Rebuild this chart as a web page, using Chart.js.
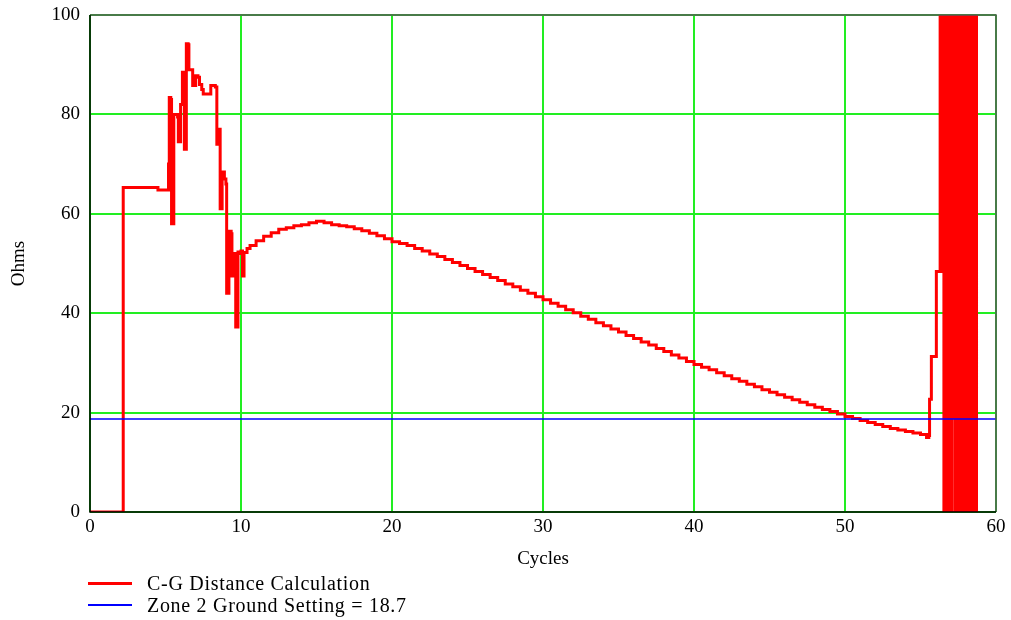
<!DOCTYPE html>
<html>
<head>
<meta charset="utf-8">
<script src="https://cdn.jsdelivr.net/npm/chart.js@4"></script>
<style>
  body { margin: 0; background: #fff; }
  .wrap { position: relative; width: 1011px; height: 620px; }
  .legend { position: absolute; left: 88px; font-family: "Liberation Serif", "Times New Roman", serif; font-size: 20px; letter-spacing: 0.7px; color: #000; }
  .legend .row { position: relative; height: 22px; line-height: 22px; }
  .legend .swatch { position: absolute; left: 0; width: 44px; }
  .legend .label { position: absolute; left: 59px; white-space: nowrap; }
</style>
</head>
<body>
<div class="wrap">
  <canvas id="myChart" width="1011" height="620"></canvas>
  <div class="legend" style="top: 572px;">
    <div class="row"><div class="swatch" style="top: 10px; height: 3px; background: #ff0000;"></div><div class="label">C-G Distance Calculation</div></div>
    <div class="row"><div class="swatch" style="top: 10px; height: 1.5px; background: #0000ff;"></div><div class="label">Zone 2 Ground Setting = 18.7</div></div>
  </div>
</div>
<script>
// C-G distance (ohms) vs cycles
const cycles = [0, 2.2, 2.2, 4.5, 4.5, 5.17, 5.2, 5.25, 5.35, 5.4, 5.5, 5.55, 5.8, 5.85, 5.95, 6.0, 6.1, 6.12, 6.2, 6.25,
  6.35, 6.38, 6.5, 6.55, 6.75, 6.8, 6.95, 7.0, 7.15, 7.25, 7.4, 7.5, 7.95, 8.0, 8.3, 8.4, 8.5, 8.6, 8.62, 8.72,
  8.75, 8.9, 9.0, 9.05, 9.15, 9.2, 9.35, 9.4, 9.5, 9.55, 9.62, 9.65, 9.75, 9.8, 9.95, 10.0, 10.1, 10.2, 10.4, 10.6,
  11, 11.5, 12, 12.5, 13, 13.5, 14, 14.5, 15, 15.5, 16, 16.5, 17, 17.5, 18, 18.5, 19, 19.5, 20, 20.5,
  21, 21.5, 22, 22.5, 23, 23.5, 24, 24.5, 25, 25.5, 26, 26.5, 27, 27.5, 28, 28.5, 29, 29.5, 30, 30.5,
  31, 31.5, 32, 32.5, 33, 33.5, 34, 34.5, 35, 35.5, 36, 36.5, 37, 37.5, 38, 38.5, 39, 39.5, 40, 40.5,
  41, 41.5, 42, 42.5, 43, 43.5, 44, 44.5, 45, 45.5, 46, 46.5, 47, 47.5, 48, 48.5, 49, 49.5, 50, 50.5,
  51, 51.5, 52, 52.5, 53, 53.5, 54, 54.5, 55, 55.4, 55.55, 55.6, 55.7, 55.72, 56.0, 56.05, 56.25];
const ohms = [0, 0, 65.3, 65.3, 64.8, 64.8, 70, 83.4, 83, 58, 58, 80, 79.5, 74.5, 74.5, 82, 82, 88.5, 88.5, 73,
  73, 94.2, 94, 89, 89, 85.8, 85.8, 87.8, 87.5, 86, 85, 84.1, 84.1, 85.8, 85.5, 74, 77, 77, 61, 61,
  68.4, 67, 66, 44, 44, 56.5, 56, 47.5, 47.5, 52, 52, 37.2, 37.2, 52.3, 52, 52.5, 47.5, 52.2, 53, 53.6,
  54.6, 55.5, 56.2, 56.9, 57.2, 57.6, 57.8, 58.2, 58.5, 58.2, 57.8, 57.6, 57.4, 57.0, 56.6, 56.1, 55.6, 55.0, 54.4, 54.0,
  53.6, 53.0, 52.5, 51.9, 51.4, 50.8, 50.2, 49.6, 49.0, 48.4, 47.8, 47.2, 46.6, 45.9, 45.3, 44.6, 44.0, 43.3, 42.7, 42.0,
  41.4, 40.7, 40.1, 39.4, 38.8, 38.1, 37.5, 36.8, 36.2, 35.5, 34.9, 34.2, 33.6, 32.9, 32.3, 31.6, 31.0, 30.3, 29.7, 29.1,
  28.6, 28.0, 27.4, 26.8, 26.3, 25.7, 25.2, 24.6, 24.1, 23.6, 23.1, 22.6, 22.1, 21.6, 21.1, 20.6, 20.2, 19.7, 19.2, 18.8,
  18.4, 18.0, 17.6, 17.2, 16.8, 16.5, 16.2, 15.9, 15.6, 15.0, 15.4, 22.7, 22.7, 31.3, 31.3, 48.4, 48.4];

// the off-scale burst at the end of the record
const burstCycles = [56.3, 56.3, 56.4, 56.4, 56.55, 56.6, 56.65, 56.7, 56.75, 56.8, 56.85, 56.9, 56.95, 57.0, 57.05, 57.1, 57.1, 57.26,
  57.26, 57.31, 57.36, 57.41, 57.46, 57.51, 57.56, 57.61, 57.66, 57.71, 57.76, 57.81, 57.86, 57.91, 57.96,
  58.01, 58.06, 58.11, 58.16, 58.21, 58.26, 58.31, 58.36, 58.41, 58.46, 58.51, 58.56, 58.61, 58.66, 58.71];
const burstOhms = [48.4, 110, 110, 48.4, 0, 110, 0, 110, 0, 110, 0, 110, 0, 110, 0, 110, 19, 19,
  110, 0, 110, 0, 110, 0, 110, 0, 110, 0, 110, 0, 110, 0, 110,
  0, 110, 0, 110, 0, 110, 0, 110, 0, 110, 0, 110, 0, 110, 0];

const zoneSetting = 18.7;
const xTicks = [0, 10, 20, 30, 40, 50, 60];
const yTicks = [0, 20, 40, 60, 80, 100];

const serif = "'Liberation Serif', 'Times New Roman', serif";

const mainPoints = cycles.map((c, i) => ({ x: c, y: ohms[i] }))
  .concat(burstCycles.map((c, i) => ({ x: c, y: burstOhms[i] })));

const framePlugin = {
  id: "frame",
  afterDatasetsDraw(chart) {
    const { ctx, chartArea: a } = chart;
    ctx.save();
    ctx.strokeStyle = "#555";
    ctx.lineWidth = 1.5;
    ctx.beginPath();
    ctx.moveTo(a.left, a.top);
    ctx.lineTo(a.right, a.top);
    ctx.lineTo(a.right, a.bottom);
    ctx.stroke();
    ctx.strokeStyle = "#000";
    ctx.beginPath();
    ctx.moveTo(a.left, a.top);
    ctx.lineTo(a.left, a.bottom);
    ctx.lineTo(a.right, a.bottom);
    ctx.stroke();
    ctx.restore();
  },
};

const ctx = document.getElementById("myChart").getContext("2d");
new Chart(ctx, {
  type: "line",
  data: {
    datasets: [
      {
        label: "C-G Distance Calculation",
        data: mainPoints,
        borderColor: "#ff0000",
        borderWidth: 3,
        pointRadius: 0,
        stepped: true,
        clip: 0,
        order: 2,
      },
      {
        label: "Zone 2 Ground Setting = 18.7",
        data: [{ x: 0, y: zoneSetting }, { x: 60, y: zoneSetting }],
        borderColor: "#0000ff",
        borderWidth: 1.5,
        pointRadius: 0,
        clip: 0,
        order: 1,
      },
    ],
  },
  options: {
    responsive: false,
    animation: false,
    layout: { padding: { top: 15, right: 15, bottom: 50, left: 0 } },
    plugins: { legend: { display: false }, tooltip: { enabled: false } },
    scales: {
      x: {
        type: "linear",
        min: 0,
        max: 60,
        afterBuildTicks: (s) => { s.ticks = xTicks.map((v) => ({ value: v })); },
        afterFit: (s) => { s.height = 58; s.paddingLeft = 0; s.paddingRight = 0; },
        grid: { color: "#22ee22", lineWidth: 2, drawTicks: false },
        border: { display: false },
        ticks: { color: "#000", padding: 4, maxRotation: 0, font: { family: serif, size: 19 } },
        title: { display: true, text: "Cycles", color: "#000", padding: 0, font: { family: serif, size: 19 } },
      },
      y: {
        min: 0,
        max: 100,
        afterBuildTicks: (s) => { s.ticks = yTicks.map((v) => ({ value: v })); },
        afterFit: (s) => { s.width = 90; s.paddingTop = 0; s.paddingBottom = 0; },
        grid: { color: "#22ee22", lineWidth: 2, drawTicks: false },
        border: { display: false },
        ticks: { color: "#000", padding: 10, font: { family: serif, size: 19 } },
        title: { display: true, text: "Ohms", color: "#000", padding: { top: 8, bottom: 0 }, font: { family: serif, size: 19 } },
      },
    },
  },
  plugins: [framePlugin],
});
</script>
</body>
</html>
